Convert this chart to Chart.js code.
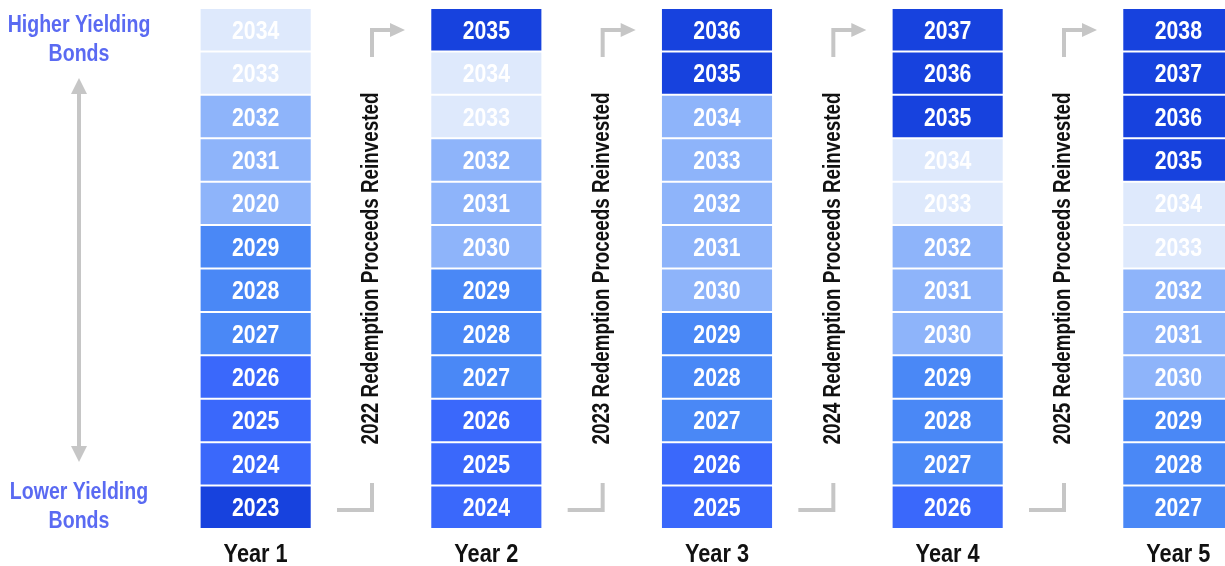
<!DOCTYPE html>
<html><head><meta charset="utf-8">
<script src="https://cdn.jsdelivr.net/npm/chart.js@4/dist/chart.umd.min.js"></script>
<style>
html,body{margin:0;padding:0;background:#fff;overflow:hidden;width:1225px;height:566px}
#wrap{position:relative;width:1240px;height:566px}
</style></head><body>
<div id="wrap"><canvas id="c"></canvas></div>
<script>
// ---- data (bottom cell first) ----
const columns = ['Year 1', 'Year 2', 'Year 3', 'Year 4', 'Year 5'];
const maturitiesYear1 = ['2023','2024','2025','2026','2027','2028','2029','2020','2031','2032','2033','2034'];
const maturitiesYear2 = ['2024','2025','2026','2027','2028','2029','2030','2031','2032','2033','2034','2035'];
const maturitiesYear3 = ['2025','2026','2027','2028','2029','2030','2031','2032','2033','2034','2035','2036'];
const maturitiesYear4 = ['2026','2027','2028','2029','2030','2031','2032','2033','2034','2035','2036','2037'];
const maturitiesYear5 = ['2027','2028','2029','2030','2031','2032','2033','2034','2035','2036','2037','2038'];
const shadeYear1 = [0,1,1,1,2,2,2,3,3,3,4,4];
const shadeYear2 = [1,1,1,2,2,2,3,3,3,4,4,0];
const shadeYear3 = [1,1,2,2,2,3,3,3,3,3,0,0];
const shadeYear4 = [1,2,2,2,3,3,3,4,4,0,0,0];
const shadeYear5 = [2,2,2,3,3,3,4,4,0,0,0,0];
const cellValue = [1,1,1,1,1,1,1,1,1,1,1,1];
const reinvestTexts = [
  '2022 Redemption Proceeds Reinvested',
  '2023 Redemption Proceeds Reinvested',
  '2024 Redemption Proceeds Reinvested',
  '2025 Redemption Proceeds Reinvested'
];
const sideLabels = ['Higher Yielding', 'Bonds', 'Lower Yielding', 'Bonds'];

// ---- styles ----
const shadePalette = ['#1742de', '#3a68fb', '#4a88f6', '#8eb4fa', '#dee9fc'];
const FONT = "'Liberation Sans',Arial,sans-serif";
const GREY = '#c6c6c6';

const maturities = [maturitiesYear1, maturitiesYear2, maturitiesYear3, maturitiesYear4, maturitiesYear5];
const shades = [shadeYear1, shadeYear2, shadeYear3, shadeYear4, shadeYear5];

// categories: column, gap, column, gap ...
const categories = [];
columns.forEach((c, i) => { categories.push(c); if (i < columns.length - 1) categories.push(''); });

const datasets = cellValue.map((v, level) => ({
  label: 'Level ' + (level + 1),
  data: categories.map((c, i) => i % 2 === 0 ? v : null),
  backgroundColor: categories.map((c, i) => i % 2 === 0 ? shadePalette[shades[i / 2][level]] : 'rgba(0,0,0,0)'),
  cellLabels: categories.map((c, i) => i % 2 === 0 ? maturities[i / 2][level] : ''),
  borderColor: '#ffffff',
  borderWidth: 1,
  borderSkipped: false,
  barPercentage: 0.972,
  categoryPercentage: 1.0
}));

function narrowText(ctx, text, x, y, sx, rot) {
  ctx.save();
  ctx.translate(x, y);
  if (rot) ctx.rotate(rot);
  ctx.scale(sx, 1);
  ctx.fillText(text, 0, 0);
  ctx.restore();
}

function arrowHead(ctx, x, y, dir, len, half) {
  ctx.beginPath();
  if (dir === 'up') { ctx.moveTo(x, y); ctx.lineTo(x - half, y + len); ctx.lineTo(x + half, y + len); }
  else if (dir === 'down') { ctx.moveTo(x, y); ctx.lineTo(x - half, y - len); ctx.lineTo(x + half, y - len); }
  else { ctx.moveTo(x, y); ctx.lineTo(x - len, y - half); ctx.lineTo(x - len, y + half); }
  ctx.closePath(); ctx.fill();
}

const decor = {
  id: 'decor',
  afterDatasetsDraw(chart) {
    const ctx = chart.ctx;
    ctx.save();
    ctx.fillStyle = '#ffffff';
    ctx.font = 'bold 25px ' + FONT;
    ctx.textAlign = 'center';
    ctx.textBaseline = 'alphabetic';
    chart.data.datasets.forEach((ds, di) => {
      const meta = chart.getDatasetMeta(di);
      meta.data.forEach((bar, j) => {
        const t = ds.cellLabels[j];
        if (!t) return;
        const cy = (bar.y + bar.base) / 2;
        narrowText(ctx, t, bar.x, cy + 9, 0.85);
      });
    });
    ctx.restore();
  },
  afterDraw(chart) {
    const ctx = chart.ctx;
    const xs = chart.scales.x;
    const area = chart.chartArea;
    ctx.save();
    // column titles
    ctx.fillStyle = '#111111';
    ctx.font = 'bold 25px ' + FONT;
    ctx.textAlign = 'center';
    ctx.textBaseline = 'alphabetic';
    columns.forEach((c, i) => {
      narrowText(ctx, c, xs.getPixelForValue(2 * i), area.bottom + 33, 0.87);
    });
    // left side labels
    ctx.fillStyle = '#5a6af2';
    ctx.font = 'bold 23px ' + FONT;
    narrowText(ctx, sideLabels[0], 79, 32, 0.85);
    narrowText(ctx, sideLabels[1], 79, 61, 0.85);
    narrowText(ctx, sideLabels[2], 79, 499, 0.85);
    narrowText(ctx, sideLabels[3], 79, 528, 0.85);
    // double arrow
    ctx.strokeStyle = GREY; ctx.fillStyle = GREY; ctx.lineWidth = 4;
    ctx.beginPath(); ctx.moveTo(79, 92); ctx.lineTo(79, 448); ctx.stroke();
    arrowHead(ctx, 79, 78, 'up', 16, 8);
    arrowHead(ctx, 79, 462, 'down', 16, 8);
    // gaps: rotated text and bent arrows
    reinvestTexts.forEach((t, g) => {
      const cx = xs.getPixelForValue(2 * g + 1);
      const midY = (area.top + area.bottom) / 2;
      ctx.fillStyle = '#111111';
      ctx.font = 'bold 23px ' + FONT;
      ctx.textAlign = 'center';
      ctx.textBaseline = 'middle';
      narrowText(ctx, t, cx + 1, midY, 0.82, -Math.PI / 2);
      ctx.strokeStyle = GREY; ctx.fillStyle = GREY; ctx.lineWidth = 4;
      ctx.lineCap = 'butt'; ctx.lineJoin = 'miter';
      // top: up then right
      ctx.beginPath(); ctx.moveTo(cx + 1, 57); ctx.lineTo(cx + 1, 30); ctx.lineTo(cx + 20, 30); ctx.stroke();
      arrowHead(ctx, cx + 34, 30, 'right', 15, 7);
      // bottom: down then left
      ctx.beginPath(); ctx.moveTo(cx + 1, 483); ctx.lineTo(cx + 1, 510); ctx.lineTo(cx - 34, 510); ctx.stroke();
    });
    ctx.restore();
  }
};

new Chart(document.getElementById('c'), {
  type: 'bar',
  data: { labels: categories, datasets: datasets },
  options: {
    responsive: true,
    maintainAspectRatio: false,
    animation: false,
    layout: { padding: { left: 198, right: 4, top: 8, bottom: 0 } },
    plugins: { legend: { display: false }, tooltip: { enabled: false } },
    scales: {
      x: {
        stacked: true,
        grid: { display: false, drawTicks: false },
        border: { display: false },
        ticks: { display: false },
        afterFit: (s) => { s.height = 37; }
      },
      y: { stacked: true, display: false, min: 0, max: 12 }
    }
  },
  plugins: [decor]
});
</script>
</body></html>
